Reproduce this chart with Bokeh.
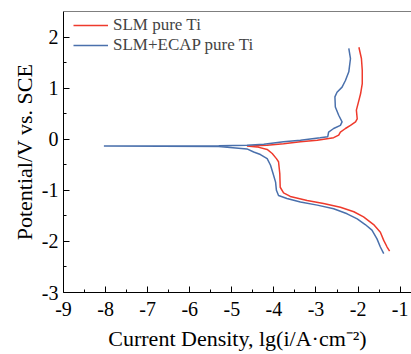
from bokeh.plotting import figure
from bokeh.models import Range1d, Span, Legend, LegendItem
from bokeh.embed import file_html
from bokeh.resources import INLINE

# SLM pure Ti (red)
slm_x = [-1.25, -1.31, -1.39, -1.47, -1.63, -1.87, -2.10, -2.42, -2.82, -3.21, -3.61, -3.77, -3.85, -3.86, -3.89,
         -3.94, -4.04, -4.16, -4.40, -4.64,
         -4.16, -3.77, -3.37, -2.97, -2.58, -2.46, -2.42, -2.30, -2.18, -2.06, -2.02, -2.04, -1.98, -1.94, -1.90,
         -1.90, -1.92, -1.98]
slm_y = [-2.19, -2.11, -1.98, -1.82, -1.67, -1.52, -1.42, -1.33, -1.26, -1.20, -1.12, -1.05, -0.94, -0.67, -0.44,
         -0.38, -0.28, -0.20, -0.15, -0.135,
         -0.12, -0.09, -0.05, -0.02, 0.03, 0.08, 0.14, 0.21, 0.27, 0.34, 0.40, 0.57, 0.76, 0.89, 1.09,
         1.35, 1.58, 1.80]

# SLM+ECAP pure Ti (blue)
ecap_x = [-1.39, -1.47, -1.55, -1.67, -1.83, -2.02, -2.26, -2.58, -2.97, -3.37, -3.69, -3.89, -3.94, -3.96, -4.02,
          -4.08, -4.16, -4.32, -4.48, -4.64, -5.31, -8.04, -5.31, -4.64,
          -4.24, -3.77, -3.37, -2.90, -2.72, -2.70, -2.58, -2.42, -2.38, -2.46, -2.54, -2.55, -2.50, -2.38, -2.30,
          -2.22, -2.18, -2.22]
ecap_y = [-2.24, -2.11, -1.95, -1.78, -1.67, -1.56, -1.46, -1.36, -1.29, -1.23, -1.16, -1.10, -1.00, -0.84, -0.67,
          -0.51, -0.38, -0.30, -0.25, -0.19, -0.14, -0.133, -0.13, -0.12,
          -0.10, -0.05, -0.02, 0.03, 0.05, 0.14, 0.21, 0.27, 0.34, 0.47, 0.63, 0.83, 0.92, 1.02, 1.15,
          1.32, 1.58, 1.78]

series_names = ["SLM pure Ti", "SLM+ECAP pure Ti"]
x_ticks = [-9, -8, -7, -6, -5, -4, -3, -2, -1]
y_ticks = [-3, -2, -1, 0, 1, 2]
x_title = "Current Density, lg(i/A·cm⁻²)"
y_title = "Potential/V vs. SCE"

RED = "#EE3A2C"
BLUE = "#4A70AC"
SERIF = "Liberation Serif"

p = figure(width=411, height=354, output_backend="svg", toolbar_location=None,
           x_range=Range1d(-9, -0.73), y_range=Range1d(-3, 2.5),
           min_border_left=63, min_border_right=0, min_border_top=11, min_border_bottom=62)
p.outline_line_color = None
p.xgrid.visible = False
p.ygrid.visible = False
p.background_fill_color = "white"
p.border_fill_color = "white"

r1 = p.line(slm_x, slm_y, line_color=RED, line_width=1.5)
r2 = p.line(ecap_x, ecap_y, line_color=BLUE, line_width=1.5)

p.add_layout(Span(location=2.5, dimension="width", line_color="black", line_width=1))

for ax in (p.xaxis[0], p.yaxis[0]):
    ax.axis_line_color = "black"
    ax.axis_line_width = 1
    ax.major_tick_in = 6
    ax.major_tick_out = 0
    ax.minor_tick_in = 3
    ax.minor_tick_out = 0
    ax.major_tick_line_color = "black"
    ax.minor_tick_line_color = "black"
    ax.major_label_text_font = SERIF
    ax.major_label_text_font_size = "20px"
    ax.major_label_text_color = "black"
    ax.axis_label_text_font = SERIF
    ax.axis_label_text_font_size = "22px"
    ax.axis_label_text_font_style = "normal"
    ax.axis_label_text_color = "black"

p.xaxis[0].ticker = x_ticks
p.xaxis[0].ticker.minor_ticks = [t + 0.5 for t in x_ticks[:-1]]
p.yaxis[0].ticker = y_ticks
p.yaxis[0].ticker.minor_ticks = [t + 0.5 for t in y_ticks[:-1]]
p.xaxis[0].major_label_overrides = {t: str(t) for t in x_ticks}
p.yaxis[0].major_label_overrides = {t: str(t) for t in y_ticks}
p.xaxis[0].axis_label = x_title
p.yaxis[0].axis_label = y_title
p.xaxis[0].major_label_standoff = 9
p.yaxis[0].major_label_standoff = 5
p.xaxis[0].axis_label_standoff = 7
p.yaxis[0].axis_label_standoff = 2

legend = Legend(items=[LegendItem(label=series_names[0], renderers=[r1]),
                       LegendItem(label=series_names[1], renderers=[r2])],
                location=(10, 237), margin=0, padding=0, spacing=0,
                glyph_width=35, glyph_height=20, label_height=20, label_standoff=5,
                label_text_font=SERIF, label_text_font_size="17px",
                border_line_color=None, background_fill_alpha=0)
p.add_layout(legend)

open("out.html", "w").write(file_html(p, INLINE))
